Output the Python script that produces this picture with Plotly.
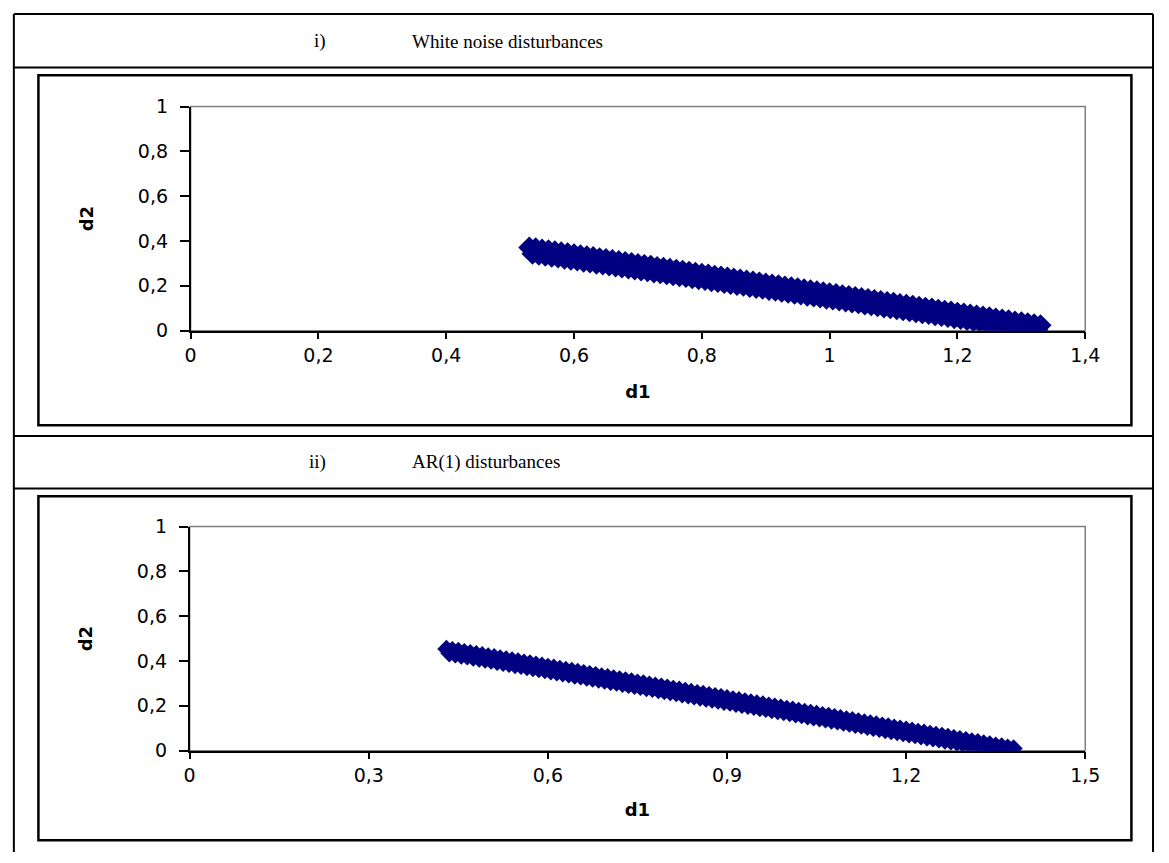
import plotly.graph_objects as go

W, H = 1169, 863

# ---- data: panel i) White noise disturbances (two interleaved rows of points) ----
d1_wn_a = [0.53, 0.54, 0.55, 0.56, 0.57, 0.58, 0.59, 0.60, 0.61, 0.62,
           0.63, 0.64, 0.65, 0.66, 0.67, 0.68, 0.69, 0.70, 0.71, 0.72,
           0.73, 0.74, 0.75, 0.76, 0.77, 0.78, 0.79, 0.80, 0.81, 0.82,
           0.83, 0.84, 0.85, 0.86, 0.87, 0.88, 0.89, 0.90, 0.91, 0.92,
           0.93, 0.94, 0.95, 0.96, 0.97, 0.98, 0.99, 1.00, 1.01, 1.02,
           1.03, 1.04, 1.05, 1.06, 1.07, 1.08, 1.09, 1.10, 1.11, 1.12,
           1.13, 1.14, 1.15, 1.16, 1.17, 1.18, 1.19, 1.20, 1.21, 1.22,
           1.23, 1.24, 1.25, 1.26, 1.27, 1.28, 1.29, 1.30, 1.31, 1.32,
           1.33]
d2_wn_a = [0.371, 0.367, 0.362, 0.358, 0.354, 0.349, 0.345, 0.341, 0.336, 0.332,
           0.328, 0.323, 0.319, 0.315, 0.310, 0.306, 0.302, 0.297, 0.293, 0.289,
           0.284, 0.280, 0.276, 0.271, 0.267, 0.263, 0.258, 0.254, 0.250, 0.245,
           0.241, 0.237, 0.232, 0.228, 0.223, 0.219, 0.215, 0.210, 0.206, 0.202,
           0.197, 0.193, 0.189, 0.184, 0.180, 0.176, 0.171, 0.167, 0.163, 0.158,
           0.154, 0.150, 0.145, 0.141, 0.137, 0.132, 0.128, 0.124, 0.119, 0.115,
           0.111, 0.106, 0.102, 0.098, 0.093, 0.089, 0.085, 0.080, 0.076, 0.072,
           0.067, 0.063, 0.059, 0.054, 0.050, 0.046, 0.041, 0.037, 0.033, 0.028,
           0.024]
d1_wn_b = [0.535, 0.545, 0.555, 0.565, 0.575, 0.585, 0.595, 0.605, 0.615, 0.625,
           0.635, 0.645, 0.655, 0.665, 0.675, 0.685, 0.695, 0.705, 0.715, 0.725,
           0.735, 0.745, 0.755, 0.765, 0.775, 0.785, 0.795, 0.805, 0.815, 0.825,
           0.835, 0.845, 0.855, 0.865, 0.875, 0.885, 0.895, 0.905, 0.915, 0.925,
           0.935, 0.945, 0.955, 0.965, 0.975, 0.985, 0.995, 1.005, 1.015, 1.025,
           1.035, 1.045, 1.055, 1.065, 1.075, 1.085, 1.095, 1.105, 1.115, 1.125,
           1.135, 1.145, 1.155, 1.165, 1.175, 1.185, 1.195, 1.205, 1.215, 1.225,
           1.235, 1.245, 1.255, 1.265, 1.275, 1.285, 1.295, 1.305, 1.315, 1.325]
d2_wn_b = [0.343, 0.339, 0.334, 0.330, 0.326, 0.321, 0.317, 0.313, 0.308, 0.304,
           0.299, 0.295, 0.291, 0.286, 0.282, 0.278, 0.273, 0.269, 0.265, 0.260,
           0.256, 0.252, 0.247, 0.243, 0.239, 0.234, 0.230, 0.226, 0.221, 0.217,
           0.213, 0.208, 0.204, 0.200, 0.195, 0.191, 0.187, 0.182, 0.178, 0.174,
           0.169, 0.165, 0.161, 0.156, 0.152, 0.148, 0.143, 0.139, 0.135, 0.130,
           0.126, 0.122, 0.117, 0.113, 0.109, 0.104, 0.100, 0.096, 0.091, 0.087,
           0.082, 0.078, 0.074, 0.069, 0.065, 0.061, 0.056, 0.052, 0.048, 0.043,
           0.039, 0.035, 0.030, 0.026, 0.022, 0.017, 0.013, 0.009, 0.005, 0.003]

# ---- data: panel ii) AR(1) disturbances (two interleaved rows of points) ----
d1_ar_a = [0.43, 0.44, 0.45, 0.46, 0.47, 0.48, 0.49, 0.50, 0.51, 0.52,
           0.53, 0.54, 0.55, 0.56, 0.57, 0.58, 0.59, 0.60, 0.61, 0.62,
           0.63, 0.64, 0.65, 0.66, 0.67, 0.68, 0.69, 0.70, 0.71, 0.72,
           0.73, 0.74, 0.75, 0.76, 0.77, 0.78, 0.79, 0.80, 0.81, 0.82,
           0.83, 0.84, 0.85, 0.86, 0.87, 0.88, 0.89, 0.90, 0.91, 0.92,
           0.93, 0.94, 0.95, 0.96, 0.97, 0.98, 0.99, 1.00, 1.01, 1.02,
           1.03, 1.04, 1.05, 1.06, 1.07, 1.08, 1.09, 1.10, 1.11, 1.12,
           1.13, 1.14, 1.15, 1.16, 1.17, 1.18, 1.19, 1.20, 1.21, 1.22,
           1.23, 1.24, 1.25, 1.26, 1.27, 1.28, 1.29, 1.30, 1.31, 1.32,
           1.33, 1.34, 1.35, 1.36, 1.37, 1.38]
d2_ar_a = [0.454, 0.449, 0.445, 0.440, 0.435, 0.431, 0.426, 0.421, 0.417, 0.412,
           0.407, 0.403, 0.398, 0.393, 0.389, 0.384, 0.379, 0.374, 0.370, 0.365,
           0.360, 0.356, 0.351, 0.346, 0.342, 0.337, 0.332, 0.328, 0.323, 0.318,
           0.314, 0.309, 0.304, 0.300, 0.295, 0.290, 0.286, 0.281, 0.276, 0.272,
           0.267, 0.262, 0.257, 0.253, 0.248, 0.243, 0.239, 0.234, 0.229, 0.225,
           0.220, 0.215, 0.211, 0.206, 0.201, 0.197, 0.192, 0.187, 0.183, 0.178,
           0.173, 0.169, 0.164, 0.159, 0.155, 0.150, 0.145, 0.140, 0.136, 0.131,
           0.126, 0.122, 0.117, 0.112, 0.108, 0.103, 0.098, 0.094, 0.089, 0.084,
           0.080, 0.075, 0.070, 0.066, 0.061, 0.056, 0.052, 0.047, 0.042, 0.038,
           0.033, 0.028, 0.023, 0.019, 0.014, 0.010]
d1_ar_b = [0.435, 0.445, 0.455, 0.465, 0.475, 0.485, 0.495, 0.505, 0.515, 0.525,
           0.535, 0.545, 0.555, 0.565, 0.575, 0.585, 0.595, 0.605, 0.615, 0.625,
           0.635, 0.645, 0.655, 0.665, 0.675, 0.685, 0.695, 0.705, 0.715, 0.725,
           0.735, 0.745, 0.755, 0.765, 0.775, 0.785, 0.795, 0.805, 0.815, 0.825,
           0.835, 0.845, 0.855, 0.865, 0.875, 0.885, 0.895, 0.905, 0.915, 0.925,
           0.935, 0.945, 0.955, 0.965, 0.975, 0.985, 0.995, 1.005, 1.015, 1.025,
           1.035, 1.045, 1.055, 1.065, 1.075, 1.085, 1.095, 1.105, 1.115, 1.125,
           1.135, 1.145, 1.155, 1.165, 1.175, 1.185, 1.195, 1.205, 1.215, 1.225,
           1.235, 1.245, 1.255, 1.265, 1.275, 1.285, 1.295, 1.305, 1.315, 1.325,
           1.335, 1.345, 1.355, 1.365, 1.375]
d2_ar_b = [0.434, 0.429, 0.424, 0.420, 0.415, 0.410, 0.406, 0.401, 0.396, 0.392,
           0.387, 0.382, 0.378, 0.373, 0.368, 0.364, 0.359, 0.354, 0.349, 0.345,
           0.340, 0.335, 0.331, 0.326, 0.321, 0.317, 0.312, 0.307, 0.303, 0.298,
           0.293, 0.289, 0.284, 0.279, 0.275, 0.270, 0.265, 0.261, 0.256, 0.251,
           0.247, 0.242, 0.237, 0.232, 0.228, 0.223, 0.218, 0.214, 0.209, 0.204,
           0.200, 0.195, 0.190, 0.186, 0.181, 0.176, 0.172, 0.167, 0.162, 0.158,
           0.153, 0.148, 0.144, 0.139, 0.134, 0.130, 0.125, 0.120, 0.115, 0.111,
           0.106, 0.101, 0.097, 0.092, 0.087, 0.083, 0.078, 0.073, 0.069, 0.064,
           0.059, 0.055, 0.050, 0.045, 0.041, 0.036, 0.031, 0.027, 0.022, 0.017,
           0.013, 0.008, 0.004, 0.002, 0.001]

panel_labels = ["i)", "ii)"]
panel_titles = ["White noise disturbances", "AR(1) disturbances"]
x_titles = ["d1", "d1"]
y_titles = ["d2", "d2"]
x_ranges = [[0, 1.4], [0, 1.5]]
x_dticks = [0.2, 0.3]

NAVY = "#000080"
TICKFONT = dict(family="DejaVu Sans", size=19, color="black")
TITLEFONT = dict(family="DejaVu Sans", size=18, color="black", weight="bold")


def px(x):
    return x / W


def py(y):
    return 1 - y / H


fig = go.Figure()
series = [(d1_wn_a, d2_wn_a, "", 17), (d1_wn_b, d2_wn_b, "", 17),
          (d1_ar_a, d2_ar_a, "2", 14), (d1_ar_b, d2_ar_b, "2", 14)]
for xs, ys, sfx, msize in series:
    fig.add_trace(go.Scatter(x=xs, y=ys, mode="markers", xaxis="x" + sfx, yaxis="y" + sfx,
                             marker=dict(symbol="diamond", size=msize, color=NAVY,
                                         line=dict(width=0)),
                             showlegend=False, hoverinfo="x+y"))

# plot areas (pixels)
areas = [(188, 98, 1099, 328), (187, 529, 1099, 759)]
x_standoffs = [20, 18]

common_ax = dict(showline=True, linecolor="black", linewidth=1.5, ticks="outside",
                 tickcolor="black", tickwidth=1.5, showgrid=False, zeroline=False,
                 tickfont=TICKFONT, fixedrange=True)

layout = dict(width=W, height=H, margin=dict(l=0, r=0, t=0, b=0),
              paper_bgcolor="white", plot_bgcolor="white", separators=", ",
              showlegend=False)

for i, (x0, y0, x1, y1) in enumerate(areas):
    sfx = "" if i == 0 else str(i + 1)
    layout["xaxis" + sfx] = dict(common_ax, domain=[px(x0), px(x1)], range=x_ranges[i],
                                 tick0=0, dtick=x_dticks[i], ticklen=7,
                                 anchor="y" + sfx,
                                 title=dict(text=x_titles[i], font=TITLEFONT,
                                            standoff=x_standoffs[i]))
    layout["yaxis" + sfx] = dict(common_ax, domain=[py(y1), py(y0)], range=[0, 1],
                                 tick0=0, dtick=0.2, ticklen=9,
                                 anchor="x" + sfx, ticklabelstandoff=8,
                                 title=dict(text=y_titles[i], font=TITLEFONT, standoff=40))

fig.update_layout(**layout)

shapes = []
# gray plot-area frames
for i in range(2):
    sfx = "" if i == 0 else str(i + 1)
    shapes.append(dict(type="rect", xref="x" + sfx + " domain", yref="y" + sfx + " domain",
                       x0=0, x1=1, y0=0, y1=1, line=dict(color="#808080", width=1.5),
                       layer="below"))
# chart boxes
for (bx0, by0, bx1, by1) in [(33, 66, 1146, 425), (33, 498, 1146, 851)]:
    shapes.append(dict(type="rect", xref="paper", yref="paper",
                       x0=px(bx0), x1=px(bx1), y0=py(by1), y1=py(by0),
                       line=dict(color="black", width=2.5)))
# table lines
for yy in [3, 58, 436, 490]:
    shapes.append(dict(type="line", xref="paper", yref="paper",
                       x0=px(8), x1=px(1168), y0=py(yy), y1=py(yy),
                       line=dict(color="black", width=2)))
for xx in [8, 1168]:
    shapes.append(dict(type="line", xref="paper", yref="paper",
                       x0=px(xx), x1=px(xx), y0=py(3), y1=0,
                       line=dict(color="black", width=2)))
fig.update_layout(shapes=shapes)

HFONT = dict(family="Liberation Serif", size=19, color="black")
annots = []
for lab, title, yy in [(panel_labels[0], panel_titles[0], 31),
                       (panel_labels[1], panel_titles[1], 463)]:
    annots.append(dict(xref="paper", yref="paper", x=px(328), y=py(yy), text=lab,
                       showarrow=False, xanchor="right", yanchor="middle", font=HFONT))
    annots.append(dict(xref="paper", yref="paper", x=px(411), y=py(yy), text=title,
                       showarrow=False, xanchor="left", yanchor="middle", font=HFONT))
fig.update_layout(annotations=annots)

fig.write_html("out.html")
